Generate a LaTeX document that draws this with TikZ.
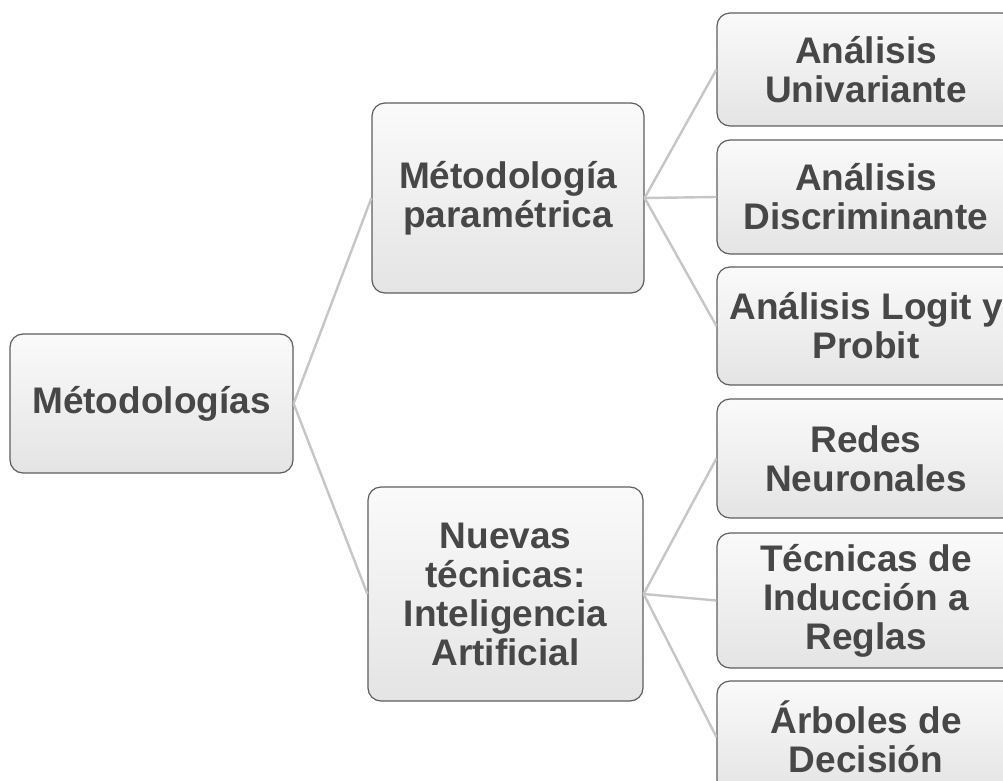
\documentclass[tikz,border=0pt]{standalone}
\usepackage{fontspec}
\setmainfont{Liberation Sans}
\begin{document}
\begin{tikzpicture}[x=1pt,y=-1pt,
  box/.style={rounded corners=13pt, draw=boxline, line width=1.2pt,
    top color=boxtop, bottom color=boxbot, inner sep=0pt, align=center,
    text=txt, font=\fontsize{37}{39}\selectfont\bfseries},
  conn/.style={draw=connc, line width=2.4pt}]
\definecolor{boxline}{HTML}{5E5E5E}
\definecolor{boxtop}{HTML}{FAFAFA}
\definecolor{boxbot}{HTML}{E4E4E4}
\definecolor{txt}{HTML}{474747}
\definecolor{connc}{HTML}{C6C6C6}
\useasboundingbox (0,0) rectangle (1003,781);
\begin{scope}
\clip (0,0) rectangle (1003,781);
\node[box, minimum width=283pt, minimum height=139pt] (root) at (151.5,403.5) {Métodologías};
\node[box, minimum width=272pt, minimum height=190pt] (m1) at (508,198) {Métodología\\paramétrica};
\node[box, minimum width=275pt, minimum height=214pt] (m2) at (505.5,594) {Nuevas\\técnicas:\\Inteligencia\\Artificial};
\node[box, minimum width=298pt, minimum height=113pt] (r1) at (866,69.5) {Análisis\\Univariante};
\node[box, minimum width=298pt, minimum height=114pt] (r2) at (866,197) {Análisis\\Discriminante};
\node[box, minimum width=298pt, minimum height=118pt] (r3) at (866,326) {Análisis Logit y\\Probit};
\node[box, minimum width=298pt, minimum height=119pt] (r4) at (866,458.5) {Redes\\Neuronales};
\node[box, minimum width=298pt, minimum height=135pt] (r5) at (866,600.5) {Técnicas de\\Inducción a\\Reglas};
\node[box, minimum width=298pt, minimum height=112pt] (r6) at (866,737) {Árboles de\\Decisión};
\draw[conn] (root.east) -- (m1.west);
\draw[conn] (root.east) -- (m2.west);
\draw[conn] (m1.east) -- (r1.west);
\draw[conn] (m1.east) -- (r2.west);
\draw[conn] (m1.east) -- (r3.west);
\draw[conn] (m2.east) -- (r4.west);
\draw[conn] (m2.east) -- (r5.west);
\draw[conn] (m2.east) -- (r6.west);
\end{scope}
\end{tikzpicture}
\end{document}
